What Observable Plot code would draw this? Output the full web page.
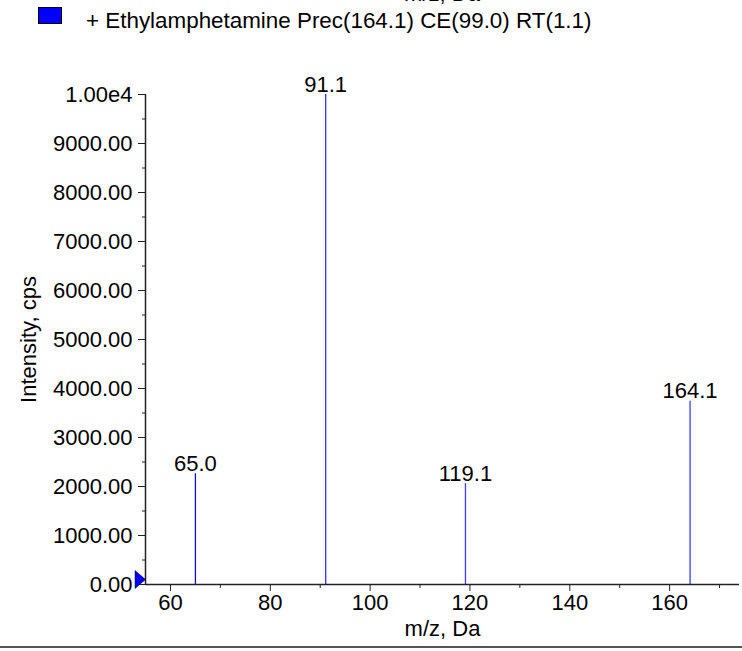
<!DOCTYPE html>
<html><head><meta charset="utf-8">
<script src="https://cdn.jsdelivr.net/npm/d3@7"></script>
<script src="https://cdn.jsdelivr.net/npm/@observablehq/plot@0.6"></script>
<style>
body{margin:0;background:#fff;font-family:"Liberation Sans",Arial,sans-serif;}
#wrap{position:relative;width:742px;height:651px;overflow:hidden;background:#fff;}
#cut{position:absolute;left:342px;width:200px;text-align:center;top:-18px;font-size:22px;line-height:24px;color:#000;}
#sw{position:absolute;left:38px;top:7px;width:22px;height:15px;background:#0000ff;border:1px solid #000;}
#lt{position:absolute;left:86px;top:9px;font-size:22.4px;line-height:24px;color:#000;white-space:nowrap;}
#chart{position:absolute;left:0;top:40px;}
#bl{position:absolute;left:0;top:646px;width:742px;height:2px;background:#555;}
</style></head><body>
<div id="wrap">
  <div id="cut">m/z, Da</div>
  <div id="sw"></div>
  <div id="lt">+ Ethylamphetamine Prec(164.1) CE(99.0) RT(1.1)</div>
  <div id="chart"></div>
  <div id="bl"></div>
</div>
<script>
const mz = [65.0, 91.1, 119.1, 164.1];
const intensity = [2260, 10000, 2060, 3740];
const peakLabels = ["65.0", "91.1", "119.1", "164.1"];
const peakColors = ["#1010d8", "#3030ff", "#3a3aff", "#3a3aff"];
const xMajor = [60, 80, 100, 120, 140, 160];
const xMinor = [70, 90, 110, 130, 150, 170];
const yMajor = [0, 1000, 2000, 3000, 4000, 5000, 6000, 7000, 8000, 9000, 10000];
const yMinor = [500, 1500, 2500, 3500, 4500, 5500, 6500, 7500, 8500, 9500];

const peaks = mz.map((m, i) => ({mz: m, v: intensity[i], label: peakLabels[i], color: peakColors[i]}));

const tri = {
  draw(ctx, size) {
    ctx.moveTo(-5.5, -9);
    ctx.lineTo(5, 0);
    ctx.lineTo(-5.5, 9);
    ctx.closePath();
  }
};

const fmtY = d => d === 10000 ? "1.00e4" : d.toFixed(2);
const FS = 22;

const chart = Plot.plot({
  width: 742,
  height: 604,
  marginLeft: 145,
  marginRight: 3,
  marginTop: 54,
  marginBottom: 60,
  style: {fontFamily: "'Liberation Sans', Arial, sans-serif", fontSize: FS + "px", color: "#000", background: "#fff", overflow: "visible"},
  x: {domain: [55, 174]},
  y: {domain: [0, 10000]},
  marks: [
    Plot.ruleX(peaks, {x: "mz", y1: 0, y2: "v", stroke: "color", strokeWidth: 1.3}),
    Plot.text(peaks, {x: "mz", y: "v", text: "label", lineAnchor: "bottom", dy: -3, fill: "#000", fontSize: FS}),
    Plot.axisX({ticks: xMajor, tickSize: 7, tickPadding: 3, tickFormat: d => String(d), label: "m/z, Da", labelAnchor: "center", labelOffset: 51, labelArrow: "none", stroke: "#222", fontSize: FS}),
    Plot.axisX({ticks: xMinor, tickSize: 4, tickFormat: () => "", label: null, stroke: "#222"}),
    Plot.axisY({ticks: yMajor, tickSize: 7, tickPadding: 6, tickFormat: fmtY, label: "Intensity, cps", labelAnchor: "center", labelOffset: 125, labelArrow: "none", stroke: "#222", fontSize: FS}),
    Plot.axisY({ticks: yMinor, tickSize: 3, tickFormat: () => "", label: null, stroke: "#222"}),
    Plot.ruleX([55], {stroke: "#222", strokeWidth: 1.5}),
    Plot.ruleY([0], {stroke: "#222", strokeWidth: 1.5}),
    Plot.dot([{mz: 55, v: 0}], {x: "mz", y: "v", symbol: tri, r: 6, dx: -5, dy: -5, fill: "#0000ff", stroke: "#000", strokeWidth: 0.5})
  ]
});
document.getElementById("chart").appendChild(chart);
</script>
</body></html>
